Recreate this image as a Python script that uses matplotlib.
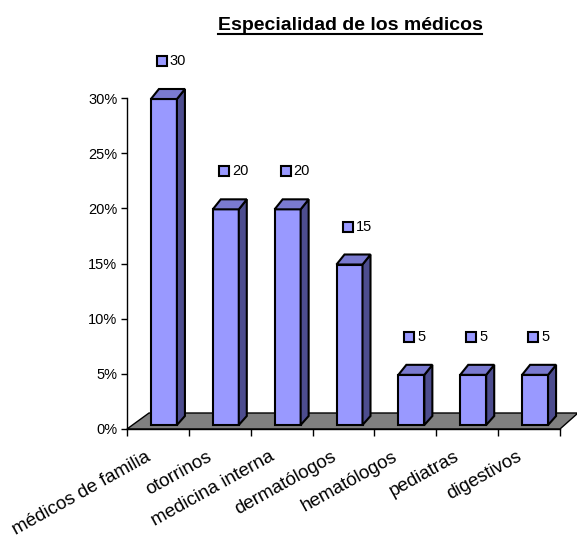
import matplotlib
matplotlib.use('Agg')
import matplotlib.pyplot as plt
from matplotlib.patches import Polygon

# datos del grafico
categorias = ['médicos de familia', 'otorrinos', 'medicina interna', 'dermatólogos',
              'hematólogos', 'pediatras', 'digestivos']
valores = [30, 20, 20, 15, 5, 5, 5]
yticks = [0, 5, 10, 15, 20, 25, 30]
ytick_labels = ['0%', '5%', '10%', '15%', '20%', '25%', '30%']
titulo = 'Especialidad de los médicos'

plt.rcParams['font.family'] = ['Liberation Sans', 'DejaVu Sans']

W, H = 577, 539
fig = plt.figure(figsize=(W / 100, H / 100), dpi=100)
ax = fig.add_axes([127 / W, (H - 429) / H, (560 - 127) / W, (429 - 98) / H])
n = len(categorias)
ax.set_xlim(0, n)
ax.set_ylim(0, max(yticks))


def px(x, y, dx=0, dy=0):
    # punto en datos desplazado dx, dy pixeles
    X, Y = ax.transData.transform((x, y))
    return ax.transData.inverted().transform((X + dx, Y + dy))


# suelo gris
suelo = [px(0, 0), px(n, 0), px(n, 0, 18, 16), px(0, 0, 22, 16)]
ax.add_patch(Polygon(suelo, closed=True, facecolor='#808080', edgecolor='black',
                     lw=1, clip_on=False, zorder=1))

# barras 3d
frente, lado, arriba = '#9999FF', '#4D4D8F', '#7A7AD0'
for i, v in enumerate(valores):
    cx = i + 0.5
    a = px(cx, 0, -7, 4)
    b = px(cx, 0, 19, 4)
    c = px(cx, v, 19, -1)
    d = px(cx, v, -7, -1)
    ax.add_patch(Polygon([a, b, c, d], facecolor=frente, edgecolor='black', lw=1.5,
                         clip_on=False, zorder=3, joinstyle='miter'))
    ax.add_patch(Polygon([b, px(cx, 0, 27, 13), px(cx, v, 27, 9), c], facecolor=lado,
                         edgecolor='black', lw=1.5, clip_on=False, zorder=3, joinstyle='miter'))
    ax.add_patch(Polygon([d, c, px(cx, v, 27, 9), px(cx, v, 1, 9)], facecolor=arriba,
                         edgecolor='black', lw=1.5, clip_on=False, zorder=3, joinstyle='miter'))
    # etiqueta de valor
    sx, sy = px(cx, v, 4, 37)
    ax.plot([sx], [sy], marker='s', ms=6.5, mfc=frente, mec='black', mew=1.5,
            clip_on=False, zorder=4)
    tx, ty = px(cx, v, 12, 37)
    ax.text(tx, ty, str(v), ha='left', va='center', fontsize=10.5, zorder=4)

# ejes
ax.set_yticks(yticks)
ax.set_yticklabels(ytick_labels, fontsize=10.5)
ax.set_xticks(range(n + 1))
ax.set_xticklabels([])
ax.tick_params(axis='y', direction='out', length=4, width=1, pad=3)
ax.tick_params(axis='x', direction='out', length=5, width=1)
for s in ['top', 'right']:
    ax.spines[s].set_visible(False)
for s in ['left', 'bottom']:
    ax.spines[s].set_linewidth(1)
    ax.spines[s].set_zorder(2)

for i, cat in enumerate(categorias):
    lx, ly = px(i + 0.5, 0, -13, -19)
    ax.text(lx, ly, cat, rotation=29, rotation_mode='anchor', ha='right', va='top',
            fontsize=13.5)

# titulo subrayado
t = fig.text(350 / W, 1 - 30 / H, titulo, ha='center', va='baseline',
             fontsize=14, fontweight='bold')
fig.canvas.draw()
bb = t.get_window_extent()
yl = (H - 34) / H
fig.add_artist(plt.Line2D([bb.x0 / W, bb.x1 / W], [yl, yl], color='black', lw=1.5))

fig.savefig('out.png', dpi=100)
